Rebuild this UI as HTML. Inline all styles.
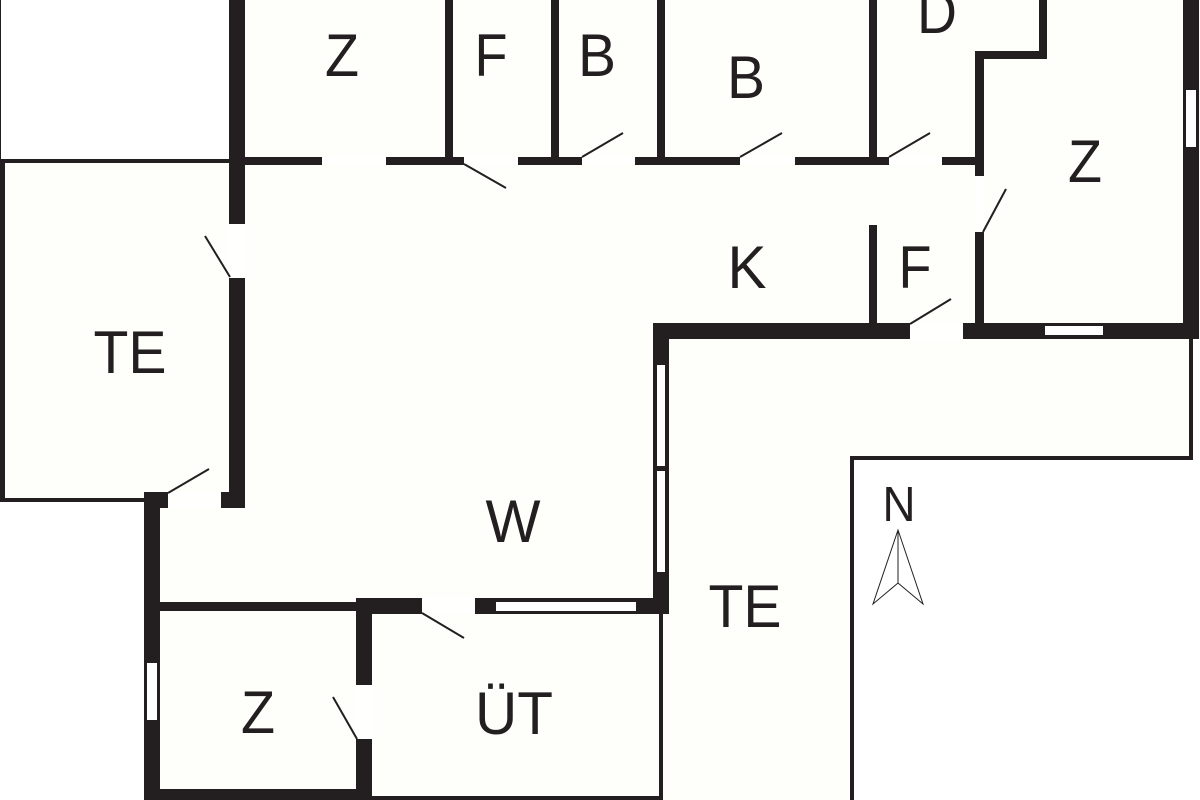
<!DOCTYPE html>
<html><head><meta charset="utf-8"><style>
html,body{margin:0;padding:0;background:#fff}
svg{display:block}
text{font-family:"Liberation Sans",sans-serif;fill:#231f20;font-size:60px;text-anchor:middle}
</style></head><body>
<svg width="1200" height="800" viewBox="0 0 1200 800" xmlns="http://www.w3.org/2000/svg">
<rect width="1200" height="800" fill="#fff"/>
<polygon points="229,0 1190,0 1190,339 1191,458 852,458 852,800 144,800 144,500 0,500 0,160 229,160" fill="#fefefa"/>
<g fill="#fffffd">
<rect x="322" y="157" width="64" height="8"/><rect x="464" y="157" width="54" height="8"/><rect x="582" y="157" width="53" height="8"/><rect x="740" y="157" width="55" height="8"/><rect x="889" y="157" width="53" height="8"/>
<rect x="975" y="176" width="9" height="56"/><rect x="229" y="224" width="16" height="54"/><rect x="168" y="492" width="53" height="16"/><rect x="422" y="598" width="53" height="16"/><rect x="356" y="685" width="16" height="54"/><rect x="910" y="323" width="53" height="16"/>
</g>
<g fill="#231f20">
<rect x="0" y="159" width="229" height="4"/><rect x="0" y="159" width="5" height="343"/><rect x="0" y="0" width="1" height="160"/><rect x="0" y="498" width="145" height="4"/>
<rect x="229" y="0" width="16" height="224"/><rect x="229" y="278" width="16" height="230"/><rect x="221" y="492" width="24" height="16"/>
<rect x="144" y="492" width="24" height="16"/><rect x="144" y="492" width="16" height="308"/>
<rect x="160" y="602" width="196" height="9"/><rect x="356" y="598" width="66" height="16"/><rect x="356" y="598" width="16" height="87"/><rect x="356" y="739" width="16" height="61"/><rect x="144" y="789" width="228" height="11"/>
<rect x="372" y="796" width="291" height="4"/><rect x="659" y="614" width="4" height="186"/>
<rect x="475" y="598" width="194" height="16"/><rect x="653" y="323" width="16" height="291"/>
<rect x="653" y="323" width="257" height="16"/><rect x="963" y="323" width="236" height="16"/>
<rect x="1183" y="0" width="16" height="339"/><rect x="1189" y="339" width="4" height="121"/><rect x="851" y="456" width="342" height="4"/><rect x="850" y="456" width="4" height="344"/>
<rect x="975" y="51" width="9" height="125"/><rect x="975" y="51" width="72" height="8"/><rect x="1039" y="0" width="8" height="59"/><rect x="975" y="232" width="9" height="91"/>
<rect x="869" y="0" width="8" height="160"/><rect x="869" y="225" width="8" height="98"/>
<rect x="445" y="0" width="8" height="160"/><rect x="551" y="0" width="8" height="160"/><rect x="657" y="0" width="8" height="160"/>
<rect x="245" y="157" width="77" height="8"/><rect x="386" y="157" width="78" height="8"/><rect x="518" y="157" width="64" height="8"/><rect x="635" y="157" width="105" height="8"/><rect x="795" y="157" width="94" height="8"/><rect x="942" y="157" width="33" height="8"/>
</g>
<g fill="#fff">
<rect x="496" y="602" width="140" height="9"/><rect x="657" y="365" width="8" height="101"/><rect x="657" y="471" width="8" height="101"/><rect x="1045" y="326" width="58" height="9"/><rect x="1186" y="90" width="10" height="57"/><rect x="147" y="663" width="10" height="57"/>
</g>
<g stroke="#231f20" stroke-width="2" fill="none">
<path d="M205 236L230 277M464 164L506 188M582 157L623 133M740 157L782 133M889 157L930 133M983 232L1006 189M910 324L951 299M168 493L209 469M422 613L464 638M357 739L333 697"/>
</g>
<path d="M898 530L873 604L898 583L923 604ZM898 530V583" fill="none" stroke="#231f20" stroke-width="1"/>
<text x="342" y="76" textLength="34" lengthAdjust="spacingAndGlyphs">Z</text>
<text x="491" y="76" textLength="33" lengthAdjust="spacingAndGlyphs">F</text>
<text x="597" y="76" textLength="38" lengthAdjust="spacingAndGlyphs">B</text>
<text x="746" y="98" textLength="38" lengthAdjust="spacingAndGlyphs">B</text>
<text x="937" y="33" textLength="40" lengthAdjust="spacingAndGlyphs">D</text>
<text x="1085" y="182" textLength="34" lengthAdjust="spacingAndGlyphs">Z</text>
<text x="747" y="288" textLength="39" lengthAdjust="spacingAndGlyphs">K</text>
<text x="915" y="288" textLength="33" lengthAdjust="spacingAndGlyphs">F</text>
<text x="130" y="373" textLength="73" lengthAdjust="spacingAndGlyphs">TE</text>
<text x="513" y="542" textLength="55" lengthAdjust="spacingAndGlyphs">W</text>
<text x="745" y="627" textLength="73" lengthAdjust="spacingAndGlyphs">TE</text>
<text x="514" y="734" textLength="78" lengthAdjust="spacingAndGlyphs">ÜT</text>
<text x="258" y="733" textLength="34" lengthAdjust="spacingAndGlyphs">Z</text>
<text x="899" y="521" textLength="33" lengthAdjust="spacingAndGlyphs" style="font-size:49px">N</text>
</svg>
</body></html>
